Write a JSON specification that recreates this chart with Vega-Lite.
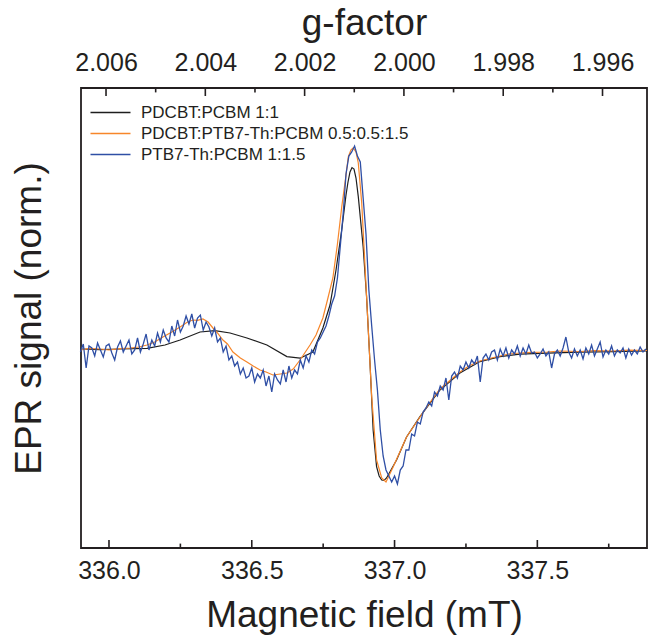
{
  "$schema": "https://vega.github.io/schema/vega-lite/v6.json",
  "width": 566,
  "height": 460,
  "autosize": "none",
  "padding": {"left": 81, "top": 88, "right": 5, "bottom": 96},
  "background": "white",
  "config": {
    "font": "Liberation Sans",
    "view": {"stroke": "#231f20", "strokeWidth": 1.8},
    "axis": {"domain": false, "grid": false, "ticks": false, "labelColor": "#231f20", "titleColor": "#231f20", "titleFontWeight": "normal", "labelFont": "Liberation Sans", "titleFont": "Liberation Sans"}
  },
  "datasets": {
    "black": [
      {"B": 335.902, "v": 0.005}, {"B": 335.968, "v": 0.002}, {"B": 336.039, "v": 0.005}, {"B": 336.133, "v": 0.008},
      {"B": 336.196, "v": 0.025}, {"B": 336.249, "v": 0.05}, {"B": 336.319, "v": 0.09}, {"B": 336.371, "v": 0.097},
      {"B": 336.424, "v": 0.085}, {"B": 336.483, "v": 0.06}, {"B": 336.553, "v": 0.025}, {"B": 336.623, "v": -0.033},
      {"B": 336.669, "v": -0.041}, {"B": 336.714, "v": -0.01}, {"B": 336.749, "v": 0.11}, {"B": 336.774, "v": 0.225},
      {"B": 336.795, "v": 0.4}, {"B": 336.815, "v": 0.6}, {"B": 336.83, "v": 0.775}, {"B": 336.837, "v": 0.84},
      {"B": 336.844, "v": 0.89}, {"B": 336.851, "v": 0.912}, {"B": 336.858, "v": 0.905}, {"B": 336.865, "v": 0.86},
      {"B": 336.873, "v": 0.767}, {"B": 336.89, "v": 0.517}, {"B": 336.902, "v": 0.267}, {"B": 336.914, "v": -0.065},
      {"B": 336.925, "v": -0.4}, {"B": 336.937, "v": -0.583}, {"B": 336.946, "v": -0.63}, {"B": 336.955, "v": -0.65},
      {"B": 336.963, "v": -0.652}, {"B": 336.972, "v": -0.64}, {"B": 337.007, "v": -0.55}, {"B": 337.042, "v": -0.435},
      {"B": 337.089, "v": -0.333}, {"B": 337.159, "v": -0.2}, {"B": 337.229, "v": -0.115}, {"B": 337.299, "v": -0.058},
      {"B": 337.369, "v": -0.033}, {"B": 337.439, "v": -0.021}, {"B": 337.534, "v": -0.016}, {"B": 337.649, "v": -0.011},
      {"B": 337.765, "v": -0.008}, {"B": 337.884, "v": -0.005}
    ],
    "orange": [
      {"B": 335.902, "v": 0}, {"B": 335.93, "v": 0.008}, {"B": 335.968, "v": 0.005}, {"B": 336.0, "v": 0.0},
      {"B": 336.03, "v": 0.006}, {"B": 336.074, "v": 0.01}, {"B": 336.105, "v": 0.015}, {"B": 336.133, "v": 0.025},
      {"B": 336.16, "v": 0.04}, {"B": 336.189, "v": 0.065}, {"B": 336.22, "v": 0.09}, {"B": 336.249, "v": 0.115},
      {"B": 336.275, "v": 0.14}, {"B": 336.294, "v": 0.15}, {"B": 336.31, "v": 0.148}, {"B": 336.329, "v": 0.155},
      {"B": 336.347, "v": 0.14}, {"B": 336.364, "v": 0.11}, {"B": 336.38, "v": 0.085}, {"B": 336.399, "v": 0.05},
      {"B": 336.415, "v": 0.03}, {"B": 336.434, "v": -0.01}, {"B": 336.46, "v": -0.04}, {"B": 336.483, "v": -0.06},
      {"B": 336.505, "v": -0.08}, {"B": 336.529, "v": -0.1}, {"B": 336.55, "v": -0.11}, {"B": 336.574, "v": -0.125},
      {"B": 336.6, "v": -0.12}, {"B": 336.623, "v": -0.115}, {"B": 336.645, "v": -0.095}, {"B": 336.669, "v": -0.05},
      {"B": 336.704, "v": 0.025}, {"B": 336.725, "v": 0.075}, {"B": 336.749, "v": 0.16}, {"B": 336.765, "v": 0.25},
      {"B": 336.784, "v": 0.36}, {"B": 336.8, "v": 0.53}, {"B": 336.815, "v": 0.715}, {"B": 336.83, "v": 0.875},
      {"B": 336.838, "v": 0.965}, {"B": 336.847, "v": 1.0}, {"B": 336.855, "v": 1.01}, {"B": 336.865, "v": 0.99},
      {"B": 336.873, "v": 0.935}, {"B": 336.885, "v": 0.735}, {"B": 336.896, "v": 0.435}, {"B": 336.908, "v": 0.1},
      {"B": 336.92, "v": -0.235}, {"B": 336.937, "v": -0.55}, {"B": 336.955, "v": -0.64}, {"B": 336.97, "v": -0.66},
      {"B": 336.995, "v": -0.585}, {"B": 337.042, "v": -0.435}, {"B": 337.089, "v": -0.335}, {"B": 337.12, "v": -0.27},
      {"B": 337.159, "v": -0.195}, {"B": 337.2, "v": -0.145}, {"B": 337.229, "v": -0.11}, {"B": 337.26, "v": -0.08},
      {"B": 337.299, "v": -0.055}, {"B": 337.34, "v": -0.04}, {"B": 337.369, "v": -0.03}, {"B": 337.4, "v": -0.02},
      {"B": 337.439, "v": -0.015}, {"B": 337.48, "v": -0.012}, {"B": 337.534, "v": -0.01}, {"B": 337.58, "v": -0.005},
      {"B": 337.649, "v": -0.0075}, {"B": 337.7, "v": -0.003}, {"B": 337.765, "v": -0.005}, {"B": 337.82, "v": -0.001},
      {"B": 337.884, "v": -0.0025}
    ],
    "blue": [
      {"B": 335.90, "v": -0.01}, {"B": 335.91, "v": 0.03}, {"B": 335.92, "v": -0.09}, {"B": 335.93, "v": 0.02},
      {"B": 335.94, "v": 0.01}, {"B": 335.95, "v": -0.03}, {"B": 335.96, "v": 0.035}, {"B": 335.97, "v": 0.0},
      {"B": 335.98, "v": -0.035}, {"B": 335.99, "v": 0.02}, {"B": 336.00, "v": 0.03}, {"B": 336.01, "v": -0.015},
      {"B": 336.02, "v": -0.05}, {"B": 336.03, "v": 0.015}, {"B": 336.04, "v": 0.045}, {"B": 336.05, "v": -0.01},
      {"B": 336.06, "v": 0.02}, {"B": 336.07, "v": 0.05}, {"B": 336.08, "v": -0.02}, {"B": 336.09, "v": 0.0},
      {"B": 336.10, "v": 0.06}, {"B": 336.11, "v": -0.01}, {"B": 336.12, "v": 0.03}, {"B": 336.13, "v": 0.08},
      {"B": 336.14, "v": 0.0}, {"B": 336.15, "v": 0.05}, {"B": 336.16, "v": 0.02}, {"B": 336.17, "v": 0.085},
      {"B": 336.18, "v": 0.04}, {"B": 336.19, "v": 0.1}, {"B": 336.20, "v": 0.06}, {"B": 336.21, "v": 0.04},
      {"B": 336.22, "v": 0.12}, {"B": 336.23, "v": 0.07}, {"B": 336.24, "v": 0.15}, {"B": 336.25, "v": 0.09},
      {"B": 336.26, "v": 0.12}, {"B": 336.27, "v": 0.17}, {"B": 336.28, "v": 0.13}, {"B": 336.29, "v": 0.18},
      {"B": 336.30, "v": 0.11}, {"B": 336.31, "v": 0.16}, {"B": 336.32, "v": 0.175}, {"B": 336.33, "v": 0.1},
      {"B": 336.34, "v": 0.14}, {"B": 336.35, "v": 0.115}, {"B": 336.36, "v": 0.07}, {"B": 336.37, "v": 0.11},
      {"B": 336.38, "v": 0.04}, {"B": 336.39, "v": 0.06}, {"B": 336.40, "v": -0.01}, {"B": 336.41, "v": 0.02},
      {"B": 336.42, "v": -0.05}, {"B": 336.43, "v": -0.03}, {"B": 336.44, "v": -0.08}, {"B": 336.45, "v": -0.06},
      {"B": 336.46, "v": -0.12}, {"B": 336.47, "v": -0.09}, {"B": 336.48, "v": -0.14}, {"B": 336.49, "v": -0.13},
      {"B": 336.50, "v": -0.09}, {"B": 336.51, "v": -0.16}, {"B": 336.52, "v": -0.12}, {"B": 336.53, "v": -0.14},
      {"B": 336.54, "v": -0.1}, {"B": 336.55, "v": -0.18}, {"B": 336.56, "v": -0.13}, {"B": 336.57, "v": -0.21},
      {"B": 336.58, "v": -0.12}, {"B": 336.59, "v": -0.15}, {"B": 336.60, "v": -0.17}, {"B": 336.61, "v": -0.1},
      {"B": 336.62, "v": -0.16}, {"B": 336.63, "v": -0.08}, {"B": 336.64, "v": -0.14}, {"B": 336.65, "v": -0.1},
      {"B": 336.66, "v": -0.12}, {"B": 336.67, "v": -0.05}, {"B": 336.68, "v": -0.09}, {"B": 336.69, "v": -0.03},
      {"B": 336.70, "v": -0.06}, {"B": 336.71, "v": 0.0}, {"B": 336.72, "v": -0.02}, {"B": 336.73, "v": 0.04},
      {"B": 336.74, "v": 0.06}, {"B": 336.75, "v": 0.09}, {"B": 336.76, "v": 0.12}, {"B": 336.77, "v": 0.17},
      {"B": 336.78, "v": 0.23}, {"B": 336.79, "v": 0.27}, {"B": 336.80, "v": 0.36}, {"B": 336.81, "v": 0.52},
      {"B": 336.82, "v": 0.68}, {"B": 336.83, "v": 0.88}, {"B": 336.84, "v": 0.97}, {"B": 336.85, "v": 0.99},
      {"B": 336.86, "v": 1.02}, {"B": 336.87, "v": 0.97}, {"B": 336.88, "v": 0.94}, {"B": 336.89, "v": 0.76},
      {"B": 336.90, "v": 0.58}, {"B": 336.91, "v": 0.3}, {"B": 336.92, "v": 0.12}, {"B": 336.93, "v": -0.05},
      {"B": 336.94, "v": -0.2}, {"B": 336.95, "v": -0.4}, {"B": 336.96, "v": -0.53}, {"B": 336.97, "v": -0.6},
      {"B": 336.98, "v": -0.63}, {"B": 336.99, "v": -0.66}, {"B": 337.00, "v": -0.63}, {"B": 337.01, "v": -0.67},
      {"B": 337.02, "v": -0.6}, {"B": 337.03, "v": -0.58}, {"B": 337.04, "v": -0.5}, {"B": 337.05, "v": -0.5},
      {"B": 337.06, "v": -0.42}, {"B": 337.07, "v": -0.43}, {"B": 337.08, "v": -0.36}, {"B": 337.09, "v": -0.37},
      {"B": 337.10, "v": -0.31}, {"B": 337.11, "v": -0.29}, {"B": 337.12, "v": -0.26}, {"B": 337.13, "v": -0.28},
      {"B": 337.14, "v": -0.21}, {"B": 337.15, "v": -0.23}, {"B": 337.16, "v": -0.18}, {"B": 337.17, "v": -0.2},
      {"B": 337.18, "v": -0.14}, {"B": 337.19, "v": -0.25}, {"B": 337.20, "v": -0.13}, {"B": 337.21, "v": -0.11},
      {"B": 337.22, "v": -0.14}, {"B": 337.23, "v": -0.08}, {"B": 337.24, "v": -0.1}, {"B": 337.25, "v": -0.06},
      {"B": 337.26, "v": -0.09}, {"B": 337.27, "v": -0.05}, {"B": 337.28, "v": -0.07}, {"B": 337.29, "v": -0.03},
      {"B": 337.30, "v": -0.16}, {"B": 337.31, "v": -0.04}, {"B": 337.32, "v": -0.02}, {"B": 337.33, "v": -0.05},
      {"B": 337.34, "v": -0.01}, {"B": 337.35, "v": 0.0}, {"B": 337.36, "v": -0.05}, {"B": 337.37, "v": 0.005},
      {"B": 337.38, "v": -0.03}, {"B": 337.39, "v": 0.01}, {"B": 337.40, "v": -0.04}, {"B": 337.41, "v": 0.0},
      {"B": 337.42, "v": -0.02}, {"B": 337.43, "v": 0.02}, {"B": 337.44, "v": -0.03}, {"B": 337.45, "v": 0.01},
      {"B": 337.46, "v": -0.02}, {"B": 337.47, "v": 0.025}, {"B": 337.48, "v": -0.015}, {"B": 337.49, "v": -0.01},
      {"B": 337.50, "v": -0.04}, {"B": 337.51, "v": -0.02}, {"B": 337.52, "v": 0.005}, {"B": 337.53, "v": -0.03},
      {"B": 337.54, "v": -0.01}, {"B": 337.55, "v": -0.09}, {"B": 337.56, "v": -0.02}, {"B": 337.57, "v": 0.0},
      {"B": 337.58, "v": -0.03}, {"B": 337.59, "v": 0.01}, {"B": 337.60, "v": 0.065}, {"B": 337.61, "v": -0.01},
      {"B": 337.62, "v": -0.04}, {"B": 337.63, "v": 0.005}, {"B": 337.64, "v": -0.03}, {"B": 337.65, "v": 0.0},
      {"B": 337.66, "v": -0.045}, {"B": 337.67, "v": 0.01}, {"B": 337.68, "v": -0.02}, {"B": 337.69, "v": 0.025},
      {"B": 337.70, "v": -0.03}, {"B": 337.71, "v": 0.005}, {"B": 337.72, "v": 0.04}, {"B": 337.73, "v": -0.035},
      {"B": 337.74, "v": 0.0}, {"B": 337.75, "v": -0.02}, {"B": 337.76, "v": 0.02}, {"B": 337.77, "v": -0.03},
      {"B": 337.78, "v": 0.0}, {"B": 337.79, "v": -0.015}, {"B": 337.80, "v": 0.01}, {"B": 337.81, "v": -0.04},
      {"B": 337.82, "v": 0.005}, {"B": 337.83, "v": -0.025}, {"B": 337.84, "v": 0.0}, {"B": 337.85, "v": -0.02},
      {"B": 337.86, "v": 0.015}, {"B": 337.87, "v": -0.01}, {"B": 337.88, "v": 0.005}
    ],
    "bmajor": [{"B": 336.0}, {"B": 336.5}, {"B": 337.0}, {"B": 337.5}],
    "bminor": [{"B": 336.25}, {"B": 336.75}, {"B": 337.25}, {"B": 337.75}],
    "gmajor": [{"g": 2.006}, {"g": 2.004}, {"g": 2.002}, {"g": 2.0}, {"g": 1.998}, {"g": 1.996}],
    "gminor": [{"g": 2.005}, {"g": 2.003}, {"g": 2.001}, {"g": 1.999}, {"g": 1.997}]
  },
  "layer": [
    {
      "layer": [
        {
          "data": {"name": "black"},
          "mark": {"type": "line", "strokeWidth": 1.2},
          "encoding": {
            "x": {"field": "B", "type": "quantitative",
              "scale": {"domain": [335.902, 337.884], "nice": false, "zero": false},
              "axis": {"orient": "bottom", "title": "Magnetic field (mT)", "titleFontSize": 37, "titlePadding": 14,
                "values": [336.0, 336.5, 337.0, 337.5], "format": ".1f",
                "labelFontSize": 25, "labelPadding": 10}},
            "y": {"field": "v", "type": "quantitative",
              "scale": {"domain": [-0.99, 1.31], "nice": false, "zero": false},
              "axis": {"title": "EPR signal (norm.)", "labels": false, "ticks": false, "titleFontSize": 37, "titlePadding": 33}},
            "color": {"datum": "PDCBT:PCBM 1:1", "type": "nominal",
              "scale": {"domain": ["PDCBT:PCBM 1:1", "PDCBT:PTB7-Th:PCBM 0.5:0.5:1.5", "PTB7-Th:PCBM 1:1.5"], "range": ["#1e1e1e", "#f7862a", "#2f4fa5"]},
              "legend": {"orient": "none", "legendX": 21, "legendY": 16, "title": null, "symbolType": "M-4,0H4", "symbolSize": 100,
                "symbolStrokeWidth": 1.5, "labelFontSize": 17, "labelColor": "#231f20", "labelFont": "Liberation Sans", "labelLimit": 0,
                "rowPadding": 3, "labelOffset": 22, "padding": 0}}
          }
        },
        {
          "data": {"name": "orange"},
          "mark": {"type": "line", "strokeWidth": 1.2},
          "encoding": {
            "x": {"field": "B", "type": "quantitative"},
            "y": {"field": "v", "type": "quantitative"},
            "color": {"datum": "PDCBT:PTB7-Th:PCBM 0.5:0.5:1.5", "type": "nominal"}
          }
        },
        {
          "data": {"name": "blue"},
          "mark": {"type": "line", "strokeWidth": 1.3},
          "encoding": {
            "x": {"field": "B", "type": "quantitative"},
            "y": {"field": "v", "type": "quantitative"},
            "color": {"datum": "PTB7-Th:PCBM 1:1.5", "type": "nominal"}
          }
        },
        {
          "data": {"name": "bmajor"},
          "mark": {"type": "rule", "color": "#231f20", "strokeWidth": 1.6},
          "encoding": {
            "x": {"field": "B", "type": "quantitative"},
            "y": {"datum": -0.99, "type": "quantitative"},
            "y2": {"datum": -0.95}
          }
        },
        {
          "data": {"name": "bminor"},
          "mark": {"type": "rule", "color": "#231f20", "strokeWidth": 1.6},
          "encoding": {
            "x": {"field": "B", "type": "quantitative"},
            "y": {"datum": -0.99, "type": "quantitative"},
            "y2": {"datum": -0.968}
          }
        }
      ]
    },
    {
      "layer": [
        {
          "data": {"name": "gmajor"},
          "mark": {"type": "rule", "color": "#231f20", "strokeWidth": 1.6},
          "encoding": {
            "x": {"field": "g", "type": "quantitative",
              "scale": {"domain": [2.006504, 1.995104], "nice": false, "zero": false},
              "axis": {"orient": "top", "title": "g-factor", "titleFontSize": 37, "titlePadding": 8,
                "values": [2.006, 2.004, 2.002, 2.0, 1.998, 1.996], "format": ".3f",
                "labelFontSize": 25, "labelPadding": 13}},
            "y": {"datum": 1.31, "type": "quantitative"},
            "y2": {"datum": 1.27}
          }
        },
        {
          "data": {"name": "gminor"},
          "mark": {"type": "rule", "color": "#231f20", "strokeWidth": 1.6},
          "encoding": {
            "x": {"field": "g", "type": "quantitative"},
            "y": {"datum": 1.31, "type": "quantitative"},
            "y2": {"datum": 1.288}
          }
        }
      ]
    }
  ],
  "resolve": {"scale": {"x": "independent"}, "axis": {"x": "independent"}}
}
